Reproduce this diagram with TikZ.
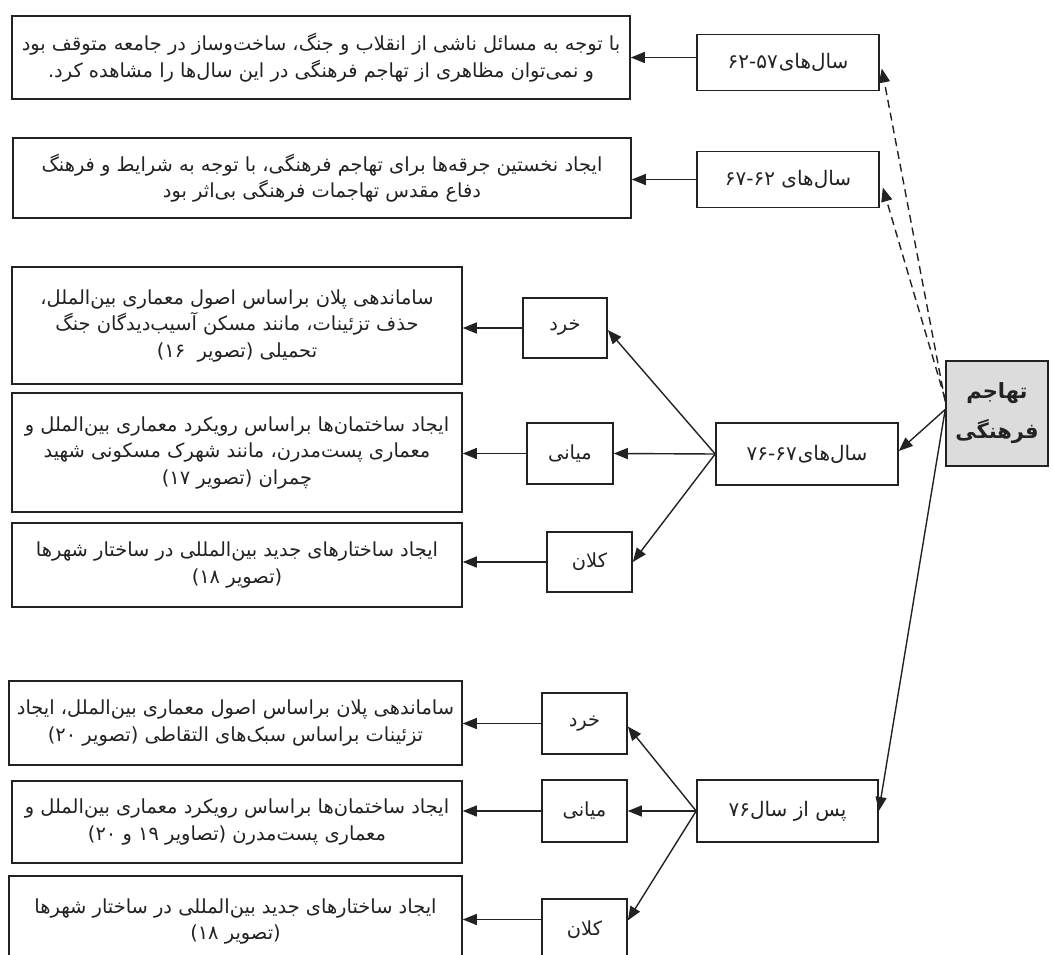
\documentclass[tikz,border=0pt]{standalone}
\usepackage{fontspec}
\usetikzlibrary{arrows.meta}
\TeXXeTstate=1
\newfontfamily\arabicfont[Script=Arabic]{DejaVu Sans}
\newcommand\rtlline[1]{\beginR #1\endR}
\newcommand\dsh{\kern0pt-\kern0pt}
\definecolor{linec}{HTML}{222222}
\definecolor{tgray}{HTML}{DCDCDC}
\tikzset{
  box/.style={draw=linec, line width=1.6pt, fill=white, inner sep=0pt, align=center,
    text=linec, font=\arabicfont\fontsize{19.4}{26.5}\selectfont},
  ybox/.style={box, minimum width=182pt, minimum height=56pt, font=\arabicfont\fontsize{20}{26}\selectfont},
  sbox/.style={box, minimum width=85pt, minimum height=61pt},
  arr/.style={draw=linec, line width=1.4pt, -{Triangle[length=14pt,width=11pt]}},
  darr/.style={arr, dash pattern=on 8pt off 5pt}
}
\begin{document}
\begin{tikzpicture}[x=1pt,y=-1pt]
\useasboundingbox (0,0) rectangle (1053,955);
\clip (0,0) rectangle (1053,955);
% top row boxes
\node[box, minimum width=618pt, minimum height=83pt] (A1) at (321,57.5)
  {\rtlline{با توجه به مسائل ناشی از انقلاب و جنگ، ساخت‌وساز در جامعه متوقف بود}\\
   \rtlline{و نمی‌توان مظاهری از تهاجم فرهنگی در این سال‌ها را مشاهده کرد.}};
\node[ybox] (Y1) at (788,62.5) {\rtlline{سال‌های\kern1pt۵۷\dsh۶۲}};
\node[box, minimum width=618pt, minimum height=80pt] (A2) at (322,178)
  {\rtlline{ایجاد نخستین جرقه‌ها برای تهاجم فرهنگی، با توجه به شرایط و فرهنگ}\\
   \rtlline{دفاع مقدس تهاجمات فرهنگی بی‌اثر بود}};
\node[ybox] (Y2) at (788,179.5) {\rtlline{سال‌های ۶۲\dsh۶۷}};
% central node
\node[box, fill=tgray, minimum width=102pt, minimum height=105pt,
  font=\arabicfont\bfseries\fontsize{21}{40}\selectfont] (T) at (997,413.5)
  {\rtlline{تهاجم}\\\rtlline{فرهنگی}};
% 67-76 group
\node[ybox, minimum height=62pt] (Y3) at (807,454) {\rtlline{سال‌های\kern1pt۶۷\dsh۷۶}};
\node[sbox, minimum width=84pt, minimum height=60pt] (K1) at (565,328) {\rtlline{خرد}};
\node[sbox, minimum width=86pt] (M1) at (570,453.5) {\rtlline{میانی}};
\node[sbox, minimum height=60pt] (L1) at (589.5,562) {\rtlline{کلان}};
\node[box, minimum width=450pt, minimum height=117pt] (B1) at (237,325.5)
  {\rtlline{ساماندهی پلان براساس اصول معماری بین‌الملل،}\\
   \rtlline{حذف تزئینات، مانند مسکن آسیب‌دیدگان جنگ}\\
   \rtlline{تحمیلی (تصویر \ ۱۶)}};
\node[box, minimum width=450pt, minimum height=119pt] (B2) at (237,452.5)
  {\rtlline{ایجاد ساختمان‌ها براساس رویکرد معماری بین‌الملل و}\\
   \rtlline{معماری پست‌مدرن، مانند شهرک مسکونی شهید}\\
   \rtlline{چمران (تصویر ۱۷)}};
\node[box, minimum width=450pt, minimum height=84pt] (B3) at (237,565)
  {\rtlline{ایجاد ساختارهای جدید بین‌المللی در ساختار شهرها}\\
   \rtlline{(تصویر ۱۸)}};
% after 76 group
\node[ybox, minimum width=181pt, minimum height=62pt] (Y4) at (787.5,811) {\rtlline{پس از سال۷۶}};
\node[sbox] (K2) at (584.5,723.5) {\rtlline{خرد}};
\node[sbox, minimum height=62pt] (M2) at (584.5,811) {\rtlline{میانی}};
\node[sbox] (L2) at (584.5,929.5) {\rtlline{کلان}};
\node[box, minimum width=453pt, minimum height=84pt] (C1) at (235.5,723)
  {\rtlline{ساماندهی پلان براساس اصول معماری بین‌الملل، ایجاد}\\
   \rtlline{تزئینات براساس سبک‌های التقاطی (تصویر ۲۰)}};
\node[box, minimum width=450pt, minimum height=82pt] (C2) at (237,822)
  {\rtlline{ایجاد ساختمان‌ها براساس رویکرد معماری بین‌الملل و}\\
   \rtlline{معماری پست‌مدرن (تصاویر ۱۹ و ۲۰)}};
\node[box, minimum width=453pt, minimum height=86pt, text depth=0pt] (C3) at (235.5,919)
  {\rtlline{ایجاد ساختارهای جدید بین‌المللی در ساختار شهرها}\\
   \rtlline{(تصویر ۱۸)}};
% connectors: year boxes to descriptions
\draw[arr] (Y1.west |- A1.east) -- (A1.east);
\draw[arr] (Y2.west) -- (Y2.west -| A2.east);
% central to years
\draw[darr] ([yshift=12pt]T.west) -- ([xshift=2pt,yshift=-6pt]Y1.east);
\draw[darr] ([yshift=14pt]T.west) -- ([xshift=3pt,yshift=-8pt]Y2.east);
\draw[arr] ([yshift=4pt]T.west) -- ([yshift=3pt]Y3.east);
\draw[arr] ([yshift=4pt]T.west) -- (Y4.east);
% 67-76 branches
\draw[arr] (Y3.west) -- ([yshift=-2pt]K1.east);
\draw[arr] (Y3.west) -- (M1.east);
\draw[arr] (Y3.west) -- (L1.east);
\draw[arr] (K1.west) -- (K1.west -| B1.east);
\draw[arr] (M1.west) -- (M1.west -| B2.east);
\draw[arr] (L1.west) -- (L1.west -| B3.east);
% after 76 branches
\draw[arr] (Y4.west) -- ([yshift=-3pt]K2.east);
\draw[arr] (Y4.west) -- (M2.east);
\draw[arr] (Y4.west) -- ([yshift=9pt]L2.east);
\draw[arr] (K2.west) -- (K2.west -| C1.east);
\draw[arr] (M2.west) -- (M2.west -| C2.east);
\draw[arr] ([yshift=10pt]L2.west) -- ([yshift=10pt]L2.west -| C3.east);
\end{tikzpicture}
\end{document}
